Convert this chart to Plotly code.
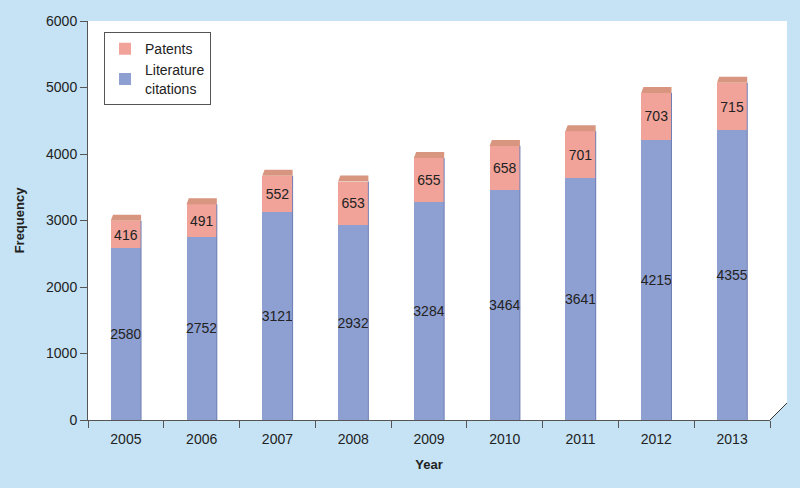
import plotly.graph_objects as go

years = [2005, 2006, 2007, 2008, 2009, 2010, 2011, 2012, 2013]
literature = [2580, 2752, 3121, 2932, 3284, 3464, 3641, 4215, 4355]
patents = [416, 491, 552, 653, 655, 658, 701, 703, 715]

bg = '#C5E3F5'
blue = '#8E9FD1'
salmon = '#F1A39A'
cap = '#D8957F'
bar_w = 0.4

fig = go.Figure()

fig.add_trace(go.Bar(
    x=years, y=literature, name='Literature<br>citations',
    width=bar_w, marker=dict(color=blue, line=dict(width=0)),
    text=literature, textposition='inside', insidetextanchor='middle',
    textfont=dict(color='#222', size=14), textangle=0
))
fig.add_trace(go.Bar(
    x=years, y=patents, name='Patents',
    width=bar_w, marker=dict(color=salmon, line=dict(width=0)),
    text=patents, textposition='inside', insidetextanchor='middle',
    textfont=dict(color='#222', size=14), textangle=0
))

# 3D-ish caps on top of each bar
shapes = []
for yr, lit, pat in zip(years, literature, patents):
    top = lit + pat
    shapes.append(dict(
        type='path', xref='x', yref='y', layer='above',
        path=f'M {yr - bar_w/2} {top} L {yr - bar_w/2 + 0.03} {top + 90} '
             f'L {yr + bar_w/2} {top + 90} L {yr + bar_w/2} {top} Z',
        fillcolor=cap, line=dict(width=0)
    ))
    # darker right edge
    shapes.append(dict(
        type='line', xref='x', yref='y', layer='above',
        x0=yr + bar_w/2, x1=yr + bar_w/2, y0=0, y1=top,
        line=dict(color='#6F7FB5', width=1)
    ))

# side wall extension of the white back panel
shapes.append(dict(
    type='path', xref='paper', yref='paper', layer='below',
    path='M 1 0 L 1.0249 0.0426 L 1.0249 1 L 1 1 Z',
    fillcolor='white', line=dict(width=0)
))
shapes.append(dict(
    type='line', xref='paper', yref='paper',
    x0=1, y0=0, x1=1.0249, y1=0.0426,
    line=dict(color='#333', width=1)
))

fig.update_layout(
    width=800, height=488,
    margin=dict(l=88, r=30, t=21, b=68),
    paper_bgcolor=bg, plot_bgcolor='white',
    barmode='stack',
    font=dict(family='Liberation Sans, Arial, sans-serif', size=13, color='#222'),
    uniformtext=dict(minsize=14, mode='show'),
    shapes=shapes,
    showlegend=True,
    legend=dict(
        x=0.0235, y=0.972, xanchor='left', yanchor='top',
        bgcolor='white', bordercolor='#555', borderwidth=1,
        traceorder='reversed', font=dict(size=14),
        itemsizing='constant'
    ),
    xaxis=dict(
        range=[2004.5, 2013.5], tickvals=years, ticktext=[str(y) for y in years],
        ticks='', showgrid=False, zeroline=False,
        showline=True, linecolor='#555', linewidth=1,
        tickfont=dict(size=14), ticklabelstandoff=6,
        minor=dict(tickvals=[y - 0.5 for y in years] + [2013.5], ticks='outside',
                   ticklen=7, tickcolor='#555'),
        title=dict(text='<b>Year</b>', font=dict(size=13), standoff=14),
        fixedrange=True
    ),
    yaxis=dict(
        range=[0, 6000], dtick=1000, ticks='outside', ticklen=7, tickcolor='#555',
        showgrid=False, zeroline=False,
        showline=True, linecolor='#555', linewidth=1,
        tickfont=dict(size=14),
        title=dict(text='<b>Frequency</b>', font=dict(size=13), standoff=18),
        fixedrange=True
    ),
    bargap=0.6
)

fig.write_html('out.html', config={'displayModeBar': False},
               post_script="document.body.style.margin='0';")
